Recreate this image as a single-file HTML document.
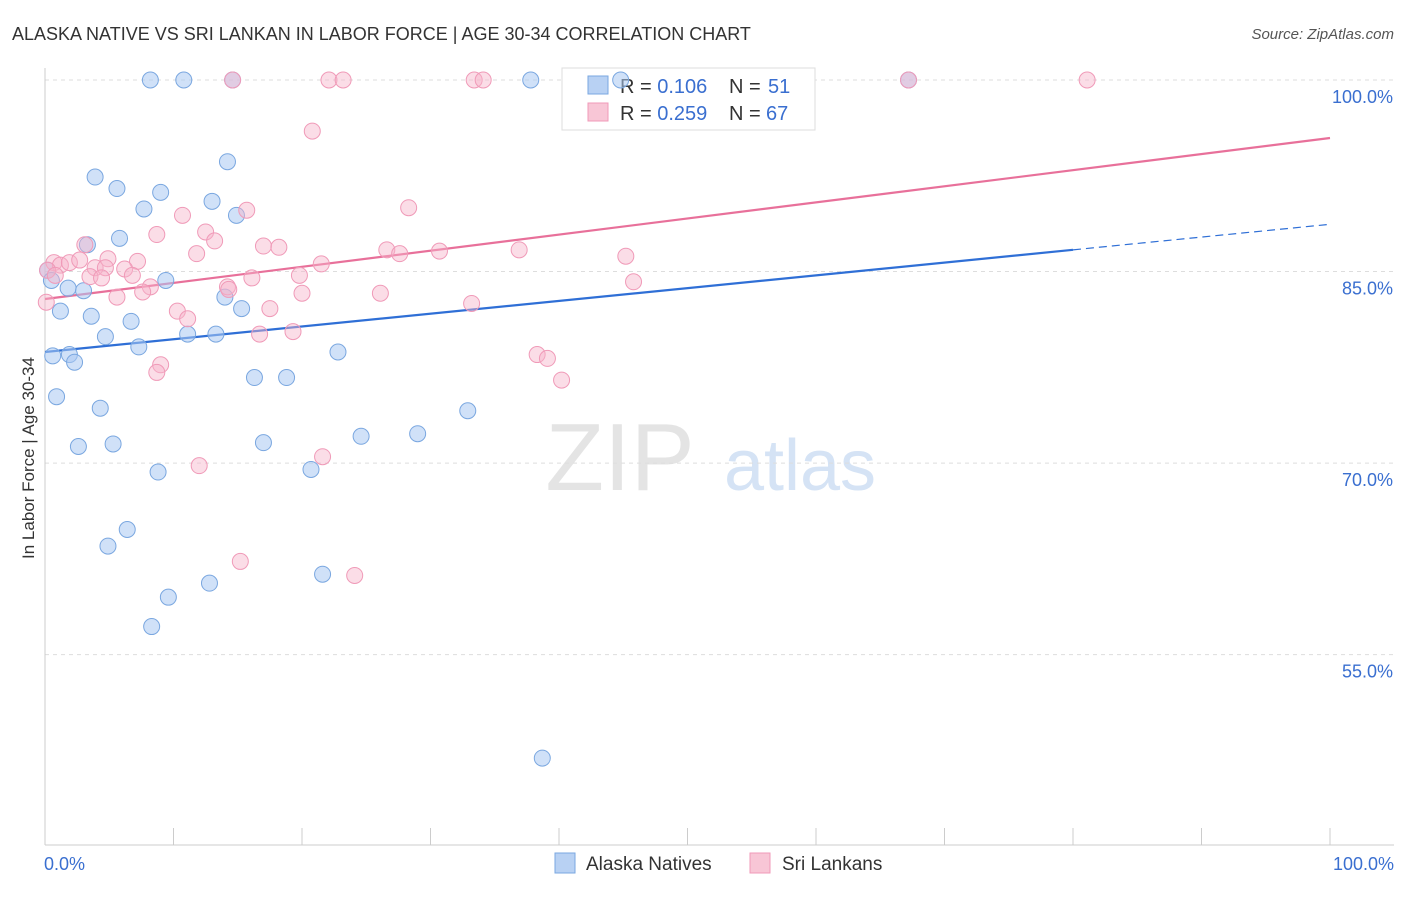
<!DOCTYPE html>
<html><head><meta charset="utf-8">
<style>
body{margin:0;background:#fff;font-family:"Liberation Sans",sans-serif;}
svg text{font-family:"Liberation Sans",sans-serif;}
</style></head>
<body>
<svg id="chart" width="1406" height="892" xmlns="http://www.w3.org/2000/svg">
<text x="12" y="40" font-size="18" fill="#333">ALASKA NATIVE VS SRI LANKAN IN LABOR FORCE | AGE 30-34 CORRELATION CHART</text>
<text x="1394" y="39" font-size="15" fill="#555" text-anchor="end" font-style="italic">Source: ZipAtlas.com</text>
<text x="620" y="490" font-size="96" fill="#e4e4e4" font-family="Liberation Serif" text-anchor="middle">ZIP</text>
<text x="800" y="490" font-size="72" fill="#d5e3f5" text-anchor="middle">atlas</text>
<g id="grid"></g><g id="axes"></g>
<g>
<rect x="562" y="68" width="253" height="62" fill="#fff" stroke="#ddd"/>
<rect x="588" y="76" width="20" height="18" fill="#b8d1f3" stroke="#7aa7e0"/>
<text x="620" y="93" font-size="20" fill="#333">R = <tspan fill="#3a6fd0">0.106</tspan></text>
<text x="729" y="93" font-size="20" fill="#333">N = </text><text x="768" y="93" font-size="20" fill="#3a6fd0">51</text>
<rect x="588" y="103" width="20" height="18" fill="#f8c6d6" stroke="#f09ab8"/>
<text x="620" y="120" font-size="20" fill="#333">R = <tspan fill="#3a6fd0">0.259</tspan></text>
<text x="729" y="120" font-size="20" fill="#333">N = </text><text x="766" y="120" font-size="20" fill="#3a6fd0">67</text>
</g>
<g id="lines"></g><g id="pts"></g>
<text x="34" y="458" font-size="17" fill="#333" text-anchor="middle" transform="rotate(-90 34 458)">In Labor Force | Age 30-34</text>
<g>
<rect x="555" y="853" width="20" height="20" fill="#b8d1f3" stroke="#7aa7e0"/>
<text x="586" y="870" font-size="19" fill="#333">Alaska Natives</text>
<rect x="750" y="853" width="20" height="20" fill="#f8c6d6" stroke="#f09ab8"/>
<text x="782" y="870" font-size="19" fill="#333">Sri Lankans</text>
</g>
</svg>
<script>
const yTicks=[100,85,70,55];
const xTickLabels=["0.0%","100.0%"];
const blueX=[8.2,10.8,14.6,37.8,44.8,67.2,14.2,3.9,5.6,9.0,13.0,7.7,14.9,5.8,3.3,0.2,0.5,9.4,1.8,3.0,14.0,1.2,3.6,15.3,6.7,4.7,11.1,13.3,7.3,22.8,0.6,1.9,2.3,16.3,18.8,0.9,4.3,32.9,24.6,29.0,2.6,5.3,17.0,8.8,20.7,6.4,4.9,21.6,12.8,9.6,8.3,38.7];
const blueY=[100,100,100,100,100,100,93.6,92.4,91.5,91.2,90.5,89.9,89.4,87.6,87.1,85.1,84.3,84.3,83.7,83.5,83.0,81.9,81.5,82.1,81.1,79.9,80.1,80.1,79.1,78.7,78.4,78.5,77.9,76.7,76.7,75.2,74.3,74.1,72.1,72.3,71.3,71.5,71.6,69.3,69.5,64.8,63.5,61.3,60.6,59.5,57.2,46.9];
const pinkX=[14.6,22.1,23.2,33.4,34.1,67.2,81.1,20.8,28.3,15.7,10.7,12.5,8.7,3.1,17.0,18.2,26.6,27.6,30.7,36.9,45.2,11.8,0.7,1.2,1.9,2.7,4.9,7.2,0.2,3.9,4.7,6.2,6.8,3.5,4.4,16.1,19.8,21.5,14.2,8.2,7.6,5.6,20.0,26.1,45.8,33.2,17.5,10.3,11.1,16.7,19.3,38.3,39.1,40.2,9.0,8.7,12.0,21.6,15.2,24.1,0.1,0.8,14.3,13.2];
const pinkY=[100,100,100,100,100,100,100,96.0,90.0,89.8,89.4,88.1,87.9,87.1,87.0,86.9,86.7,86.4,86.6,86.7,86.2,86.4,85.7,85.5,85.7,85.9,86.0,85.8,85.1,85.3,85.3,85.2,84.7,84.6,84.5,84.5,84.7,85.6,83.8,83.8,83.4,83.0,83.3,83.3,84.2,82.5,82.1,81.9,81.3,80.1,80.3,78.5,78.2,76.5,77.7,77.1,69.8,70.5,62.3,61.2,82.6,84.7,83.6,87.4];
const blueLine=[[0,78.7],[80,86.7],[100,88.7]];
const pinkLine=[[0,82.85],[100,95.46]];
const X0=45,X1=1330,Ytop=80,Ppx=12.77;
const sx=v=>X0+(X1-X0)*v/100, sy=v=>Ytop+(100-v)*Ppx;
const NS="http://www.w3.org/2000/svg";
function mk(t,a,p){const e=document.createElementNS(NS,t);for(const k in a)e.setAttribute(k,a[k]);p.appendChild(e);return e;}
const grid=document.getElementById('grid'),axes=document.getElementById('axes'),lines=document.getElementById('lines'),pts=document.getElementById('pts');
yTicks.forEach(t=>{const l=mk('line',{x1:X0,x2:1394,y1:sy(t),y2:sy(t),stroke:'#ddd','stroke-dasharray':'4 4'},grid);


const tx=mk('text',{x:1393,y:sy(t)+23,'font-size':18,fill:'#3a6fd0','text-anchor':'end'},axes);tx.textContent=t.toFixed(1)+'%';

});
mk('line',{x1:X0,x2:X0,y1:68,y2:845,stroke:'#ccc'},axes);
mk('line',{x1:X0,x2:1394,y1:845,y2:845,stroke:'#ccc'},axes);
for(let i=0;i<=10;i++){mk('line',{x1:sx(i*10),x2:sx(i*10),y1:828,y2:845,stroke:'#ccc'},axes);}
[[X0-1,'start',0],[1394,'end',1]].forEach(([x,a,i])=>{const t=mk('text',{x:x,y:870,'font-size':18,fill:'#3a6fd0','text-anchor':a},axes);t.textContent=xTickLabels[i];

});
function pl(p1,p2,c,d){const l=mk('line',{x1:sx(p1[0]),y1:sy(p1[1]),x2:sx(p2[0]),y2:sy(p2[1]),stroke:c,'stroke-width':d?1.2:2.2},lines);if(d)l.setAttribute('stroke-dasharray','8 5');return l;}
let a=pl(blueLine[0],blueLine[1],'#2f6fd6',false);
a=pl(blueLine[1],blueLine[2],'#2f6fd6',true);
a=pl(pinkLine[0],pinkLine[1],'#e8709a',false);
blueX.forEach((x,i)=>{const c=mk('circle',{cx:sx(x),cy:sy(blueY[i]),r:8,fill:'rgba(170,200,242,0.55)',stroke:'#7aa7e0','stroke-width':1},pts);

});
pinkX.forEach((x,i)=>{const c=mk('circle',{cx:sx(x),cy:sy(pinkY[i]),r:8,fill:'rgba(246,180,202,0.45)',stroke:'#f09ab8','stroke-width':1},pts);

});
</script>
</body></html>
